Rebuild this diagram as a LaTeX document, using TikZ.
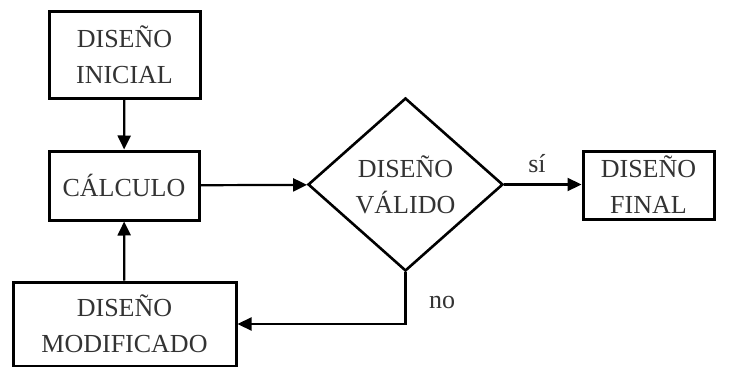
\documentclass[tikz,border=0pt]{standalone}
\usepackage{fontspec}
\setmainfont{Liberation Serif}
\usetikzlibrary{shapes.geometric,arrows.meta}
\begin{document}
\begin{tikzpicture}[x=1pt,y=-1pt,
  every node/.style={font=\fontsize{26}{36}\selectfont, text=black!80, align=center, inner sep=0pt},
  box/.style={draw=black, line width=3pt, rectangle},
  decision/.style={draw=black, line width=2.6pt, diamond},
  flow/.style={line width=2.2pt, -{Triangle[length=14pt,width=13pt]}}]
\useasboundingbox (0,0) rectangle (729,367);
\fill[white] (0,0) rectangle (729,367);

\node[box, minimum width=151pt, minimum height=87pt] (ini) at (124.5,54.5) {DISEÑO\\INICIAL};
\node[box, minimum width=150pt, minimum height=69pt] (calc) at (124,185.5) {CÁLCULO};
\node[box, minimum width=223pt, minimum height=84pt] (mod) at (124.5,324) {DISEÑO\\MODIFICADO};
\node[decision, minimum width=195pt, minimum height=173pt] (dia) at (405.5,184.5) {DISEÑO\\VÁLIDO};
\node[box, minimum width=131pt, minimum height=68pt] (fin) at (648.5,185) {DISEÑO\\FINAL};

\draw[flow] (ini) -- (calc);
\draw[flow] (mod) -- (calc);
\draw[flow] (calc) -- (dia);
\draw[flow] (dia.east) -- (dia.east -| fin.west);
\draw[flow] (dia.south) |- (mod.east);

\node (si) at (537,164) {sí};
\node (no) at (442,302) {no};
\end{tikzpicture}
\end{document}
